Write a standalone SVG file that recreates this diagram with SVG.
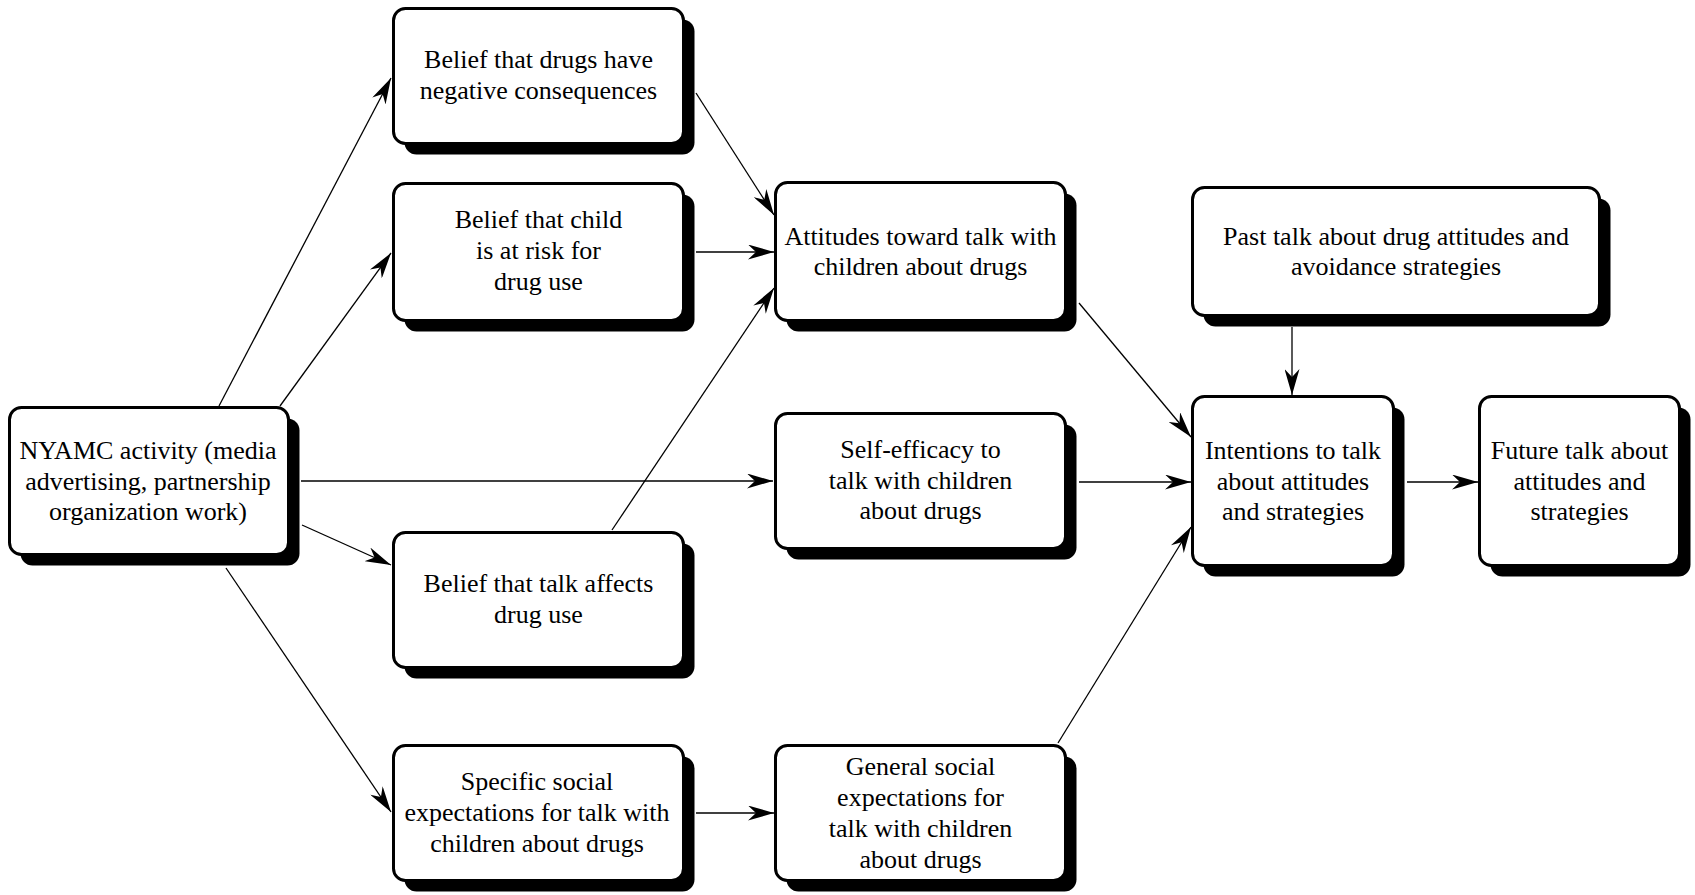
<svg xmlns="http://www.w3.org/2000/svg" width="1695" height="895" viewBox="0 0 1695 895">
<style>
.box{fill:#fff;stroke:#000;stroke-width:3}
.sh{fill:#000;stroke:none}
.t{font-family:"Liberation Serif","Times New Roman",serif;font-size:26px;fill:#000;text-anchor:middle}
.c{stroke:#000;stroke-width:1.3;fill:none;marker-end:url(#ah)}
</style>
<defs>
<marker id="ah" markerUnits="userSpaceOnUse" viewBox="0 0 26 15" refX="26" refY="7.5" markerWidth="26" markerHeight="15" orient="auto">
<path d="M26,7.5 L0,0 L8,7.5 L0,15 Z" fill="#000"/>
</marker>
</defs>
<rect width="1695" height="895" fill="#fff"/>
<g id="connectors">
<line class="c" x1="219" y1="406" x2="391" y2="78"/>
<line class="c" x1="280" y1="406" x2="391" y2="253"/>
<line class="c" x1="301" y1="481" x2="773" y2="481"/>
<line class="c" x1="302" y1="525" x2="391" y2="565"/>
<line class="c" x1="226" y1="568" x2="391" y2="812"/>
<line class="c" x1="696" y1="93" x2="774" y2="215"/>
<line class="c" x1="696" y1="252" x2="774" y2="252"/>
<line class="c" x1="612" y1="530" x2="774" y2="288"/>
<line class="c" x1="1079" y1="303" x2="1191" y2="437"/>
<line class="c" x1="1079" y1="482" x2="1191" y2="482"/>
<line class="c" x1="1058" y1="743" x2="1191" y2="527"/>
<line class="c" x1="1292" y1="327" x2="1292" y2="395"/>
<line class="c" x1="1407" y1="482" x2="1478" y2="482"/>
<line class="c" x1="696" y1="813" x2="774" y2="813"/>
</g>
<g id="nodeA">
<rect class="sh" x="404.5" y="19.5" width="290" height="135" rx="12"/>
<rect class="box" x="393.5" y="8.5" width="290" height="135" rx="12"/>
<text class="t" x="538.5" y="68">Belief that drugs have</text>
<text class="t" x="538.5" y="99">negative consequences</text>
</g>
<g id="nodeB">
<rect class="sh" x="404.5" y="194.5" width="290" height="137" rx="12"/>
<rect class="box" x="393.5" y="183.5" width="290" height="137" rx="12"/>
<text class="t" x="538.5" y="228">Belief that child</text>
<text class="t" x="538.5" y="259">is at risk for</text>
<text class="t" x="538.5" y="290">drug use</text>
</g>
<g id="nodeC">
<rect class="sh" x="20.5" y="418.5" width="279" height="147" rx="12"/>
<rect class="box" x="9.5" y="407.5" width="279" height="147" rx="12"/>
<text class="t" x="148" y="459">NYAMC activity (media</text>
<text class="t" x="148" y="489.5">advertising, partnership</text>
<text class="t" x="148" y="520">organization work)</text>
</g>
<g id="nodeD">
<rect class="sh" x="404.5" y="543.5" width="290" height="135" rx="12"/>
<rect class="box" x="393.5" y="532.5" width="290" height="135" rx="12"/>
<text class="t" x="538.5" y="592">Belief that talk affects</text>
<text class="t" x="538.5" y="623">drug use</text>
</g>
<g id="nodeE">
<rect class="sh" x="404.5" y="756.5" width="290" height="135" rx="12"/>
<rect class="box" x="393.5" y="745.5" width="290" height="135" rx="12"/>
<text class="t" x="537" y="790">Specific social</text>
<text class="t" x="537" y="821">expectations for talk with</text>
<text class="t" x="537" y="852">children about drugs</text>
</g>
<g id="nodeF">
<rect class="sh" x="786.5" y="193.5" width="290" height="138" rx="12"/>
<rect class="box" x="775.5" y="182.5" width="290" height="138" rx="12"/>
<text class="t" x="920.5" y="245">Attitudes toward talk with</text>
<text class="t" x="920.5" y="275">children about drugs</text>
</g>
<g id="nodeG">
<rect class="sh" x="786.5" y="424.5" width="290" height="135" rx="12"/>
<rect class="box" x="775.5" y="413.5" width="290" height="135" rx="12"/>
<text class="t" x="920.5" y="458">Self-efficacy to</text>
<text class="t" x="920.5" y="489">talk with children</text>
<text class="t" x="920.5" y="519">about drugs</text>
</g>
<g id="nodeH">
<rect class="sh" x="786.5" y="756.5" width="290" height="135" rx="12"/>
<rect class="box" x="775.5" y="745.5" width="290" height="135" rx="12"/>
<text class="t" x="920.5" y="775">General social</text>
<text class="t" x="920.5" y="806">expectations for</text>
<text class="t" x="920.5" y="837">talk with children</text>
<text class="t" x="920.5" y="868">about drugs</text>
</g>
<g id="nodeI">
<rect class="sh" x="1203.5" y="198.5" width="407" height="128" rx="12"/>
<rect class="box" x="1192.5" y="187.5" width="407" height="128" rx="12"/>
<text class="t" x="1396" y="245">Past talk about drug attitudes and</text>
<text class="t" x="1396" y="275">avoidance strategies</text>
</g>
<g id="nodeJ">
<rect class="sh" x="1203.5" y="407.5" width="201" height="169" rx="12"/>
<rect class="box" x="1192.5" y="396.5" width="201" height="169" rx="12"/>
<text class="t" x="1293" y="459">Intentions to talk</text>
<text class="t" x="1293" y="490">about attitudes</text>
<text class="t" x="1293" y="520">and strategies</text>
</g>
<g id="nodeK">
<rect class="sh" x="1490.5" y="407.5" width="200" height="169" rx="12"/>
<rect class="box" x="1479.5" y="396.5" width="200" height="169" rx="12"/>
<text class="t" x="1579.5" y="459">Future talk about</text>
<text class="t" x="1579.5" y="490">attitudes and</text>
<text class="t" x="1579.5" y="520">strategies</text>
</g>
</svg>
